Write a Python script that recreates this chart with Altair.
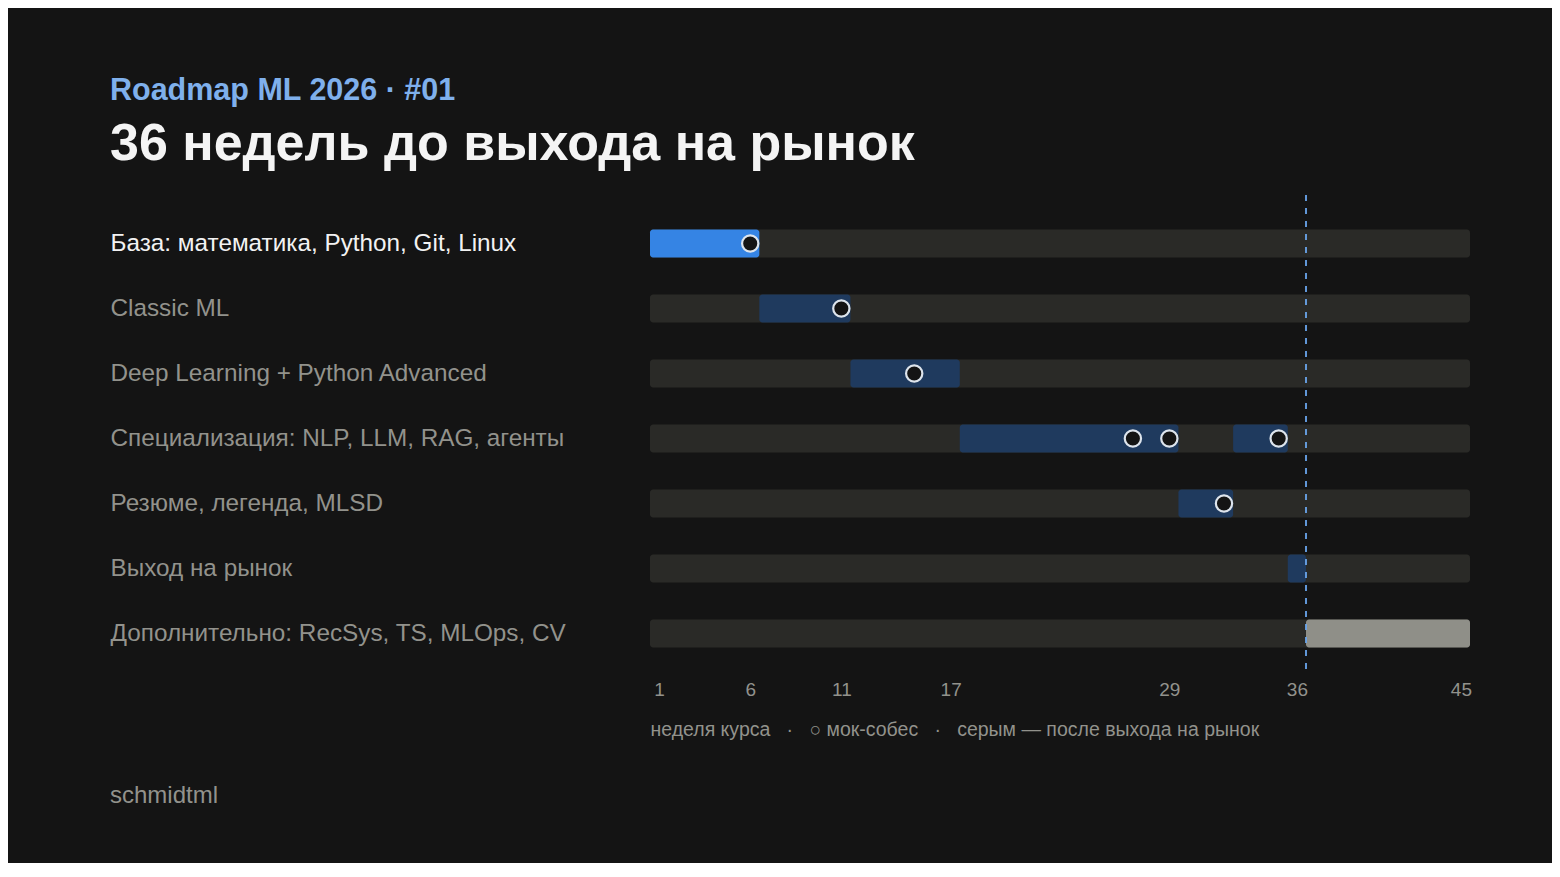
import json

import pandas as pd
import altair as alt


# Stages of the roadmap (top to bottom)
stages = [
    "База: математика, Python, Git, Linux",
    "Classic ML",
    "Deep Learning + Python Advanced",
    "Специализация: NLP, LLM, RAG, агенты",
    "Резюме, легенда, MLSD",
    "Выход на рынок",
    "Дополнительно: RecSys, TS, MLOps, CV",
]

# Segments: stage index, first week, last week, kind
seg_stage = [0, 1, 2, 3, 3, 4, 5, 6]
seg_start = [1, 7, 12, 18, 33, 30, 36, 37]
seg_end = [6, 11, 17, 29, 35, 32, 36, 45]
seg_kind = ["now", "plan", "plan", "plan", "plan", "plan", "plan", "extra"]

# Mock interviews: stage index, week
mock_stage = [0, 1, 2, 3, 3, 3, 4]
mock_week = [6, 11, 15, 27, 29, 35, 32]

tick_weeks = [1, 6, 11, 17, 29, 36, 45]
first_week = 1
last_week = 45
market_week = 36

# non-breaking spaces so the gaps survive in svg
gap = "\u00a0\u00a0\u00a0·\u00a0\u00a0\u00a0"
note = "неделя курса" + gap + "○ мок-собес" + gap + "серым — после выхода на рынок"
footer = ["schmidtml"]

BG = "#141414"
TRACK = "#2a2a27"
GREY = "#92928c"
FONT = "Liberation Sans"

W, H = 820, 455

# Build tables
tracks = pd.DataFrame({
    "stage": stages,
    "x0": first_week - 0.5,
    "x1": last_week + 0.5,
})

segments = pd.DataFrame({
    "stage": [stages[i] for i in seg_stage],
    "x0": [s - 0.5 for s in seg_start],
    "x1": [e + 0.5 for e in seg_end],
    "kind": seg_kind,
})

mocks = pd.DataFrame({
    "stage": [stages[i] for i in mock_stage],
    "week": mock_week,
})

market = pd.DataFrame({"week": [market_week + 0.5]})

x_scale = alt.Scale(domain=[first_week - 0.5, last_week + 0.5], nice=False, zero=False)
y_scale = alt.Scale(domain=stages, paddingInner=0, paddingOuter=0)

first_label = json.dumps(stages[0], ensure_ascii=False)

y_axis = alt.Axis(
    title=None,
    domain=False,
    ticks=False,
    grid=False,
    labelAlign="left",
    labelPadding=540,
    labelLimit=0,
    labelFont=FONT,
    labelFontSize=24.3,
    labelColor=alt.expr(f"datum.value === {first_label} ? '#f2f2f2' : '{GREY}'"),
)

x_axis = alt.Axis(
    values=tick_weeks,
    format="d",
    domain=False,
    ticks=False,
    tickSize=0,
    grid=False,
    labelFont=FONT,
    labelFontSize=19,
    labelColor=GREY,
    labelPadding=14,
    title=note,
    titleFont=FONT,
    titleFontSize=19.5,
    titleFontWeight="normal",
    titleColor=GREY,
    titleAnchor="start",
    titleAlign="left",
    titlePadding=21,
)

# Background tracks (carry the axes)
track = (
    alt.Chart(tracks)
    .mark_bar(size=28, cornerRadius=3, color=TRACK)
    .encode(
        x=alt.X("x0:Q", scale=x_scale, axis=x_axis),
        x2="x1:Q",
        y=alt.Y("stage:N", scale=y_scale, axis=y_axis, sort=stages),
    )
)

# Stage segments
bars = (
    alt.Chart(segments)
    .mark_bar(size=28, cornerRadius=3)
    .encode(
        x=alt.X("x0:Q", scale=x_scale),
        x2="x1:Q",
        y=alt.Y("stage:N", scale=y_scale, sort=stages),
        color=alt.Color(
            "kind:N",
            scale=alt.Scale(domain=["now", "plan", "extra"], range=["#3584e4", "#1f3a5e", "#8f8f88"]),
            legend=None,
        ),
    )
)

# Market entry line
rule = (
    alt.Chart(market)
    .mark_rule(color="#6aa6ee", strokeWidth=1.8, strokeDash=[6, 7])
    .encode(
        x=alt.X("week:Q", scale=x_scale),
        y=alt.value(-16),
        y2=alt.value(H + 9),
    )
)

# Mock interview markers
dots = (
    alt.Chart(mocks)
    .mark_point(shape="circle", filled=True, fill=BG, stroke="#dde4ec", strokeWidth=2.2, size=265, opacity=1)
    .encode(
        x=alt.X("week:Q", scale=x_scale),
        y=alt.Y("stage:N", scale=y_scale, sort=stages),
    )
)

# Author caption
sign = (
    alt.Chart(pd.DataFrame({"t": footer}))
    .mark_text(align="left", baseline="middle", font=FONT, fontSize=24, color=GREY)
    .encode(text="t:N", x=alt.value(-540), y=alt.value(H + 130))
)

chart = (
    alt.layer(track, bars, rule, dots, sign)
    .properties(
        width=W,
        height=H,
        padding={"left": 642, "top": 203, "right": 82, "bottom": 197},
        autosize=alt.AutoSizeParams(type="none"),
        background=BG,
        title=alt.TitleParams(
            text="Roadmap ML 2026 · #01",
            subtitle="36 недель до выхода на рынок",
            anchor="start",
            frame="bounds",
            offset=24,
            font=FONT,
            fontSize=30.5,
            fontWeight="bold",
            color="#7fb0ec",
            subtitleFont=FONT,
            subtitleFontSize=52,
            subtitleFontWeight="bold",
            subtitleColor="#f4f4f4",
            subtitlePadding=13,
        ),
    )
    .configure_view(stroke=None)
)

chart.save("out.html", embed_options={"renderer": "svg", "actions": False})
